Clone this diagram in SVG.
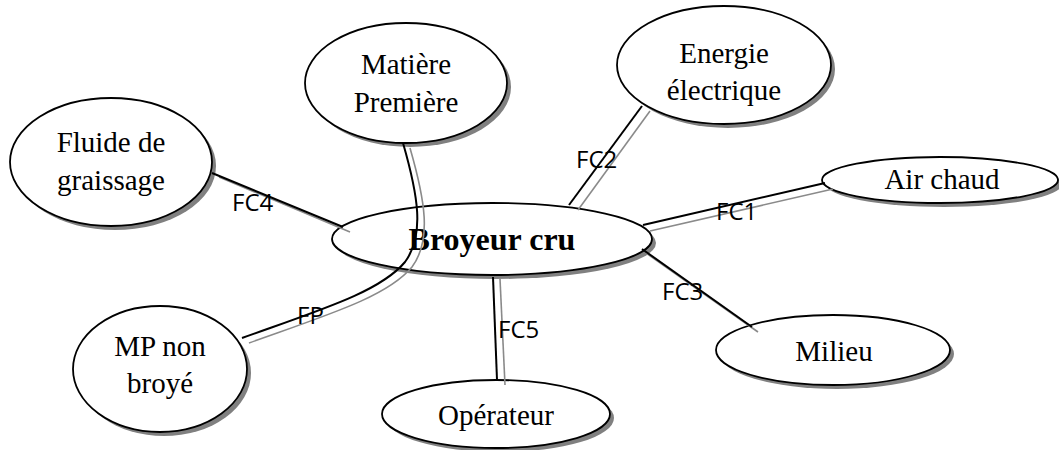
<svg xmlns="http://www.w3.org/2000/svg" width="1059" height="450" viewBox="0 0 1059 450">
  <style>
    .shadow { fill: #808080; }
    .node { fill: #ffffff; stroke: #000000; stroke-width: 1.8; }
    .label { font-family: "Liberation Serif", "Times New Roman", serif; font-size: 29px; fill: #000000; text-anchor: middle; }
    .main { font-weight: bold; font-size: 32px; }
    .link { fill: none; stroke: #000000; stroke-width: 2; }
    .link2 { fill: none; stroke: #8a8a8a; stroke-width: 1.6; }
    .fc { font-family: "Open Sans", "Liberation Sans", sans-serif; font-size: 24px; fill: #000000; }
  </style>

  <rect width="1059" height="450" fill="#ffffff"/>

  <g id="fluide">
    <ellipse class="shadow" cx="115" cy="166" rx="101" ry="64"/>
    <ellipse class="node" cx="111" cy="162" rx="101" ry="64"/>
    <text class="label" x="111" y="152">Fluide de</text>
    <text class="label" x="111" y="190">graissage</text>
  </g>

  <g id="matiere">
    <ellipse class="shadow" cx="410" cy="87" rx="101" ry="60"/>
    <ellipse class="node" cx="406" cy="83" rx="101" ry="60"/>
    <text class="label" x="406" y="74">Matière</text>
    <text class="label" x="406" y="112">Première</text>
  </g>

  <g id="energie">
    <ellipse class="shadow" cx="728" cy="69" rx="107" ry="59"/>
    <ellipse class="node" cx="724" cy="65" rx="107" ry="59"/>
    <text class="label" x="724" y="63">Energie</text>
    <text class="label" x="724" y="100">électrique</text>
  </g>

  <g id="air">
    <ellipse class="shadow" cx="944" cy="184" rx="118" ry="23"/>
    <ellipse class="node" cx="940" cy="180" rx="118" ry="23"/>
    <text class="label" x="942" y="189">Air chaud</text>
  </g>

  <g id="broyeur">
    <ellipse class="shadow" cx="496" cy="243" rx="160" ry="36"/>
    <ellipse class="node" cx="492" cy="239" rx="160" ry="36"/>
    <text class="label main" x="492" y="250">Broyeur cru</text>
  </g>

  <g id="mp">
    <ellipse class="shadow" cx="164" cy="373" rx="87" ry="63"/>
    <ellipse class="node" cx="160" cy="369" rx="87" ry="63"/>
    <text class="label" x="160" y="356">MP non</text>
    <text class="label" x="160" y="393">broyé</text>
  </g>

  <g id="operateur">
    <ellipse class="shadow" cx="500" cy="418" rx="114" ry="34"/>
    <ellipse class="node" cx="496" cy="414" rx="114" ry="34"/>
    <text class="label" x="496" y="425">Opérateur</text>
  </g>

  <g id="milieu">
    <ellipse class="shadow" cx="837" cy="354" rx="117" ry="35"/>
    <ellipse class="node" cx="833" cy="350" rx="117" ry="35"/>
    <text class="label" x="834" y="361">Milieu</text>
  </g>

  <g id="connectors">
    <!-- FP : raw material through the mill -->
    <path class="link2" d="M410,148 C425,200 432,240 412,267 C387,297 327,315 249,343"/>
    <path class="link" d="M403,143 C418,195 425,235 405,262 C380,292 320,310 242,338"/>
    <!-- FC1 -->
    <line class="link2" x1="650" y1="231" x2="833" y2="189"/>
    <line class="link" x1="643" y1="225" x2="825" y2="183"/>
    <!-- FC2 -->
    <line class="link2" x1="650" y1="111" x2="578" y2="210"/>
    <line class="link" x1="642" y1="106" x2="569" y2="205"/>
    <!-- FC3 -->
    <line class="link2" x1="646" y1="253" x2="758" y2="332"/>
    <line class="link" x1="642" y1="249" x2="752" y2="327"/>
    <!-- FC4 -->
    <line class="link2" x1="219" y1="177" x2="350" y2="232"/>
    <line class="link" x1="212" y1="173" x2="343" y2="227"/>
    <!-- FC5 -->
    <line class="link2" x1="500" y1="279" x2="505" y2="385"/>
    <line class="link" x1="493" y1="277" x2="497" y2="380"/>

    <text class="fc" x="716" y="220">FC1</text>
    <text class="fc" x="576" y="168">FC2</text>
    <text class="fc" x="662" y="300">FC3</text>
    <text class="fc" x="232" y="211">FC4</text>
    <text class="fc" x="498" y="338">FC5</text>
    <text class="fc" x="297" y="324">FP</text>
  </g>
</svg>
